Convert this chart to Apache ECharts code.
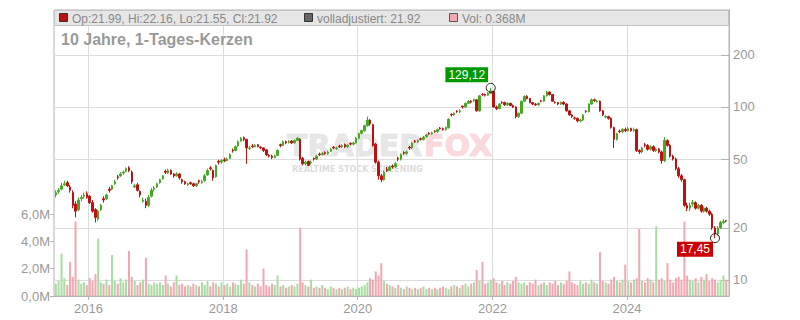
<!DOCTYPE html>
<html><head><meta charset="utf-8">
<script src="https://cdn.jsdelivr.net/npm/echarts@6/dist/echarts.min.js"></script>
<style>html,body{margin:0;padding:0;background:#fff}#c{width:800px;height:320px}</style>
</head><body><div id="c"></div>
<script>
// half-month candles, July 2015 .. June 2025
const opens = [
31,32.5,33.5,35.5,36.5,34.5,32,27.5,25.5,29.5,30.5,31.5,
30.5,28,25.5,22.5,25.5,29.5,29.5,33.5,33.5,36,39.5,40,
41.5,42.5,44.5,42,34.5,35.5,32.5,28.5,28.5,27,30.5,33.5,
34.5,36.5,38.5,42.5,41.5,43,41,40,41,38,37,35.5,
36.5,36,35,37.5,36.5,37.5,40.5,44.5,43,39.5,48.5,48,
49.5,49,50.5,56.5,56,59.5,63.5,66.5,65,57.5,59.5,59,
60.5,58.5,58,56.5,52.5,52,51,52.5,60.5,60,63,62.5,
63.5,62,64,65,50.5,47,48.5,47.5,50.5,50,53.5,53,
54.5,54,55.5,58.5,57.5,59.5,59,60.5,59,61.5,61,62,
66,70.5,73,78,84,79,61,48,40,38,43.5,43,
45.5,45,50.5,50,54.5,54,58.5,58,63.5,63,65.5,65,
67.5,70.5,70,72.5,72,75.5,75,74,76,90.5,90,94.5,
94,101,100,105,108,108.5,110,95,118.5,118,117,120,
123,100,98,106.5,106,103,105,102,100,88,92,108,
115,112,106,104,103,108.5,108,116,122,118,106.5,106,
104,106.5,104,95,90,86.5,86,83,84,94.5,94,104,
110,107.5,108,95,87.5,88,86,76,65,72.5,72,74,
73,75,73,74,56,55,60.5,60,57,59,56,57,
55,49,64,60,52,50,44,40,38,27,26,27.5,
28,26,27,25,26,25,24,20,18.5,20,21.5,21.99];
const closes = [
32,33,35,36,35,33,27,25,29,30,31,30,
28,25,23,25,27,29,31,33,35,37,39,41,
42,44,43,37,35,33,31,29,27,30,33,34,
36,38,40,42,43,41,40,41,39,37,36,36,
36,35,36,37,37,40,43,44,39,46,48,49,
49,50,53,56,59,63,66,65,58,58,59,60,
59,58,56,53,52,51,52,56,60,63,62,63,
62,64,66,50,47,48,46,48,50,52,53,54,
54,55,57,58,58,59,60,59,60,61,62,66,
70,73,78,84,80,60,48,40,38,42,43,45,
45,47,50,53,54,55,58,62,63,64,65,67,
69,70,71,72,74,75,74,76,85,90,92,94,
95,100,105,108,107,110,95,116,118,117,120,124,
100,98,104,106,103,105,102,100,88,92,108,115,
112,106,104,103,105,108,116,122,118,108,106,104,
106,104,95,90,88,86,83,84,90,94,104,110,
109,108,95,90,88,86,76,65,70,72,74,73,
75,73,74,56,55,58,60,57,59,56,57,55,
49,64,60,52,50,44,40,38,27,26,27,28,
26,27,25,26,25,24,20,18.5,20,21.5,21.8,21.92];
const highs = [
33,34,36.5,37.5,37.5,35.5,33,28.5,30,31,32,32.5,
31,29,26,25.5,27.5,30.5,31.5,34.5,35.5,38,40.5,42,
43,44.8,45.5,43,36,36.5,33,30,29.5,31,34,35,
36.5,38.5,40.5,43.5,44,43.5,41.5,42,41.5,38.5,37.5,36.5,
37,36.5,36.5,38,38,41,44,45.5,43.5,46.5,49.5,50,
51,51,54,57.5,60,64,67,67.5,65.5,59.5,61,61,
61,59.5,58.5,57,53.5,53,53,57,61.5,64,64,64.5,
64.5,65,67,66,51.5,49,49,49,51,53,54.5,55,
55.5,56,58,59.5,59,60.5,61,61.5,61,62.5,63,67,
71,74,79,88,85,80,62,49,41,43,45,46,
46.5,48,51.5,54,55.5,56,59.5,63,64.5,65,66.5,68,
70,71.5,72,73.5,75,76.5,76,77,86,92,93,96,
97,102,106,109.5,109.5,112,111,117,120,119.5,122,129.12,
124,102,105,108,107.5,106.5,106,103.5,101,93,109,116.5,
117,113,107,105.5,106,110,117,124,123,119,108,107,
107.5,108,105,96,91,88,87,85.5,91,96,105,112,
112,110,109,96,89.5,89,87,77,71,74,75.5,76,
76.5,76,76,75,57,59,62,61,60,60,58,58,
56,67,65,61,53,51,45,41,38.5,28,28,29,
28.5,27.5,27.5,26.5,26.5,25.5,24.5,20.5,20.5,22,22.5,22.16];
const lows = [
30,31.5,33,35,34.5,32,26,23,25,28.5,29.5,29.5,
27.5,24.5,21.5,22,25,28,29,32,33,35.5,38,39.5,
40.5,42,42,36,34,32.5,30,28,26,26.5,30,32.5,
34,36,38,41,41,40.5,39,39.5,38,36,35.5,35,
35.5,34.5,34.5,36,36,37,40,43,37.5,39,46.5,47,
48,48.5,50,54.5,55.5,59,63,63.5,47,56.5,58,58.5,
58.5,57,55,52,51,50,50.5,52,58.5,59.5,61,61.5,
61,61.5,63.5,49,46,46,45.5,46.5,49,49.5,52,52.5,
53,53,55,57,56.5,58,58,58,58,60,60,61.5,
65,69.5,72,77,78,59,47,38,36.8,37.5,42,42.5,
44,44.5,48.5,49,53,53,56.5,57,62,62,64,64,
66.5,69,69,71,71,74,73,73,75,88,89,92.5,
92,98,99,104,105,107,94,94,116,115,116,119,
99,96,97,104,101.5,101.5,101,98.5,86,86.5,91,107,
110.5,105,102.5,101.5,101.5,106.5,107,115,116.5,107,104.5,102.5,
102.5,102.5,94,89,86.5,84.5,81.5,81.5,83,92.5,93,103,
107,106,94,88.5,86,84.5,75,58,64,70.5,70.5,71.5,
72,72,72,55,53.5,54,58.5,56,56,55,55,54,
47,48,59,51,49,43,39,37,26.5,25,25,26.5,
25.5,25.5,24.5,24.5,24.5,23.5,19.5,17.45,18,19.8,21,21.55];
// volume in millions
const volumes = [
0.9,1.1,3.1,1.3,0.8,2.5,1.4,5.45,1.2,0.9,1.0,0.8,
1.3,1.1,1.6,4.2,1.0,0.9,1.2,0.8,3.0,1.1,0.9,1.3,
1.0,1.2,3.3,1.4,1.1,0.8,1.0,1.2,2.8,0.9,0.8,1.0,
0.9,1.0,0.8,1.5,0.9,0.7,1.0,1.5,0.8,0.9,0.7,0.8,
0.7,0.9,0.8,0.7,1.0,0.8,1.1,0.7,1.0,0.9,0.7,1.0,
0.8,0.9,0.7,1.0,0.9,0.8,1.2,0.9,3.4,1.0,0.8,0.7,
0.9,0.7,2.0,0.8,0.7,0.9,0.8,1.5,0.7,0.8,0.6,0.7,
0.8,0.7,0.9,5.0,1.0,0.8,0.7,1.2,0.6,0.7,0.6,0.8,
0.6,0.5,0.7,0.6,0.5,0.6,0.5,0.6,0.7,0.5,0.6,0.5,
0.6,0.7,0.8,1.0,1.3,1.2,1.8,1.5,2.4,1.1,0.9,0.8,
0.7,0.6,0.8,0.6,0.5,0.7,0.6,0.5,0.6,0.5,0.6,0.7,
0.5,0.6,0.5,0.6,0.5,0.6,0.7,0.6,0.5,0.7,0.8,0.7,
0.6,0.8,0.9,0.7,0.9,1.0,1.9,1.1,2.5,0.9,1.0,1.2,
1.3,1.0,0.9,1.1,0.8,1.0,0.9,1.1,1.4,1.0,0.9,1.0,
0.8,1.0,0.9,1.2,0.8,0.9,1.0,0.8,1.0,0.9,1.1,0.8,
1.0,0.9,1.1,1.8,1.0,0.9,0.8,1.1,0.9,1.0,0.9,1.2,
1.0,0.9,3.2,1.1,1.0,0.9,1.2,1.4,1.1,1.0,1.2,2.3,
1.1,1.0,1.2,1.3,4.9,1.1,1.0,1.3,1.2,1.0,5.1,1.2,
1.3,1.1,2.4,1.2,1.0,1.3,1.4,1.2,5.45,1.5,1.2,1.1,
1.3,1.0,1.4,1.2,1.6,1.1,1.3,1.2,1.0,1.1,1.5,1.2];
const yearTicks = [2016, 2018, 2020, 2022, 2024];
const priceTicks = [10, 20, 50, 100, 200];
const titleText = '10 Jahre, 1-Tages-Kerzen';
const legendOHLC = 'Op:21.99, Hi:22.16, Lo:21.55, Cl:21.92';
const legendAdj = 'volladjustiert: 21.92';
const legendVol = 'Vol: 0.368M';

const FONT = '"Liberation Sans", Arial, sans-serif';
const UP = '#44aa22', DOWN = '#bb1111', VUP = '#a9dca2', VDOWN = '#f2a7b0';
const n = closes.length;
const dates = [];
for (let i = 0; i < n; i++) dates.push(Date.UTC(2015, 6 + Math.floor(i / 2), i % 2 ? 23 : 8));
const candleData = dates.map((d, i) => [d, opens[i], closes[i], lows[i], highs[i]]);
const volData = dates.map((d, i) => ({
  value: [d, volumes[i] * 1e6],
  itemStyle: { color: closes[i] >= opens[i] ? VUP : VDOWN }
}));
const xMin = Date.UTC(2015, 5, 28), xMax = Date.UTC(2025, 6, 8);
const yearTs = yearTicks.map(y => Date.UTC(y, 0, 1));
const fmtComma = v => v.toFixed(2).replace('.', ',');

const chart = echarts.init(document.getElementById('c'), null, { renderer: 'svg' });
chart.setOption({
  animation: false,
  textStyle: { fontFamily: FONT },
  grid: [
    { left: 54, right: 71, top: 10, bottom: 24, show: true, borderColor: '#b4b4b4', borderWidth: 1 },
    { left: 54, right: 71, top: 214, bottom: 24 }
  ],
  xAxis: [
    { type: 'value', gridIndex: 0, min: xMin, max: xMax,
      axisLine: { show: true, lineStyle: { color: '#b4b4b4' } },
      axisTick: { show: true, length: 4, customValues: yearTs, lineStyle: { color: '#b4b4b4' } },
      axisLabel: { customValues: yearTs, color: '#999', fontSize: 13, margin: 6, fontFamily: FONT,
        formatter: v => String(new Date(v).getUTCFullYear()) },
      splitLine: { show: true, lineStyle: { color: '#dcdcdc' } } },
    { type: 'value', gridIndex: 1, min: xMin, max: xMax, show: false }
  ],
  yAxis: [
    { type: 'log', logBase: 10, gridIndex: 0, position: 'right', min: 8.08, max: 363.7,
      axisLine: { show: true, lineStyle: { color: '#b4b4b4' } },
      axisTick: { show: true, inside: true, length: 8, customValues: priceTicks, lineStyle: { color: '#b4b4b4' } },
      axisLabel: { customValues: priceTicks, color: '#999', fontSize: 13, margin: 4, fontFamily: FONT },
      splitLine: { show: true, lineStyle: { color: '#dcdcdc' } } },
    { type: 'value', gridIndex: 1, position: 'left', min: 0, max: 6e6, interval: 2e6,
      axisLine: { show: false },
      axisTick: { show: true, length: 4, lineStyle: { color: '#b4b4b4' } },
      axisLabel: { color: '#999', fontSize: 13, margin: 4, fontFamily: FONT,
        formatter: v => (v / 1e6).toFixed(1).replace('.', ',') + 'M' },
      splitLine: { show: false } }
  ],
  graphic: [
    { type: 'text', z: 1, style: { x: 287, y: 145, text: 'TRADER', fill: '#e6e6e6', stroke: '#d6d6d6', lineWidth: 0.6,
      font: 'bold 30px "DejaVu Sans"', verticalAlign: 'middle' } },
    { type: 'text', z: 1, style: { x: 424, y: 145, text: 'FOX', fill: '#fbd9dc', stroke: '#f4c2c8', lineWidth: 0.6,
      font: 'bold 30px "DejaVu Sans"', verticalAlign: 'middle' } },
    { type: 'text', z: 1, style: { x: 292, y: 169, text: 'REALTIME STOCK SCREENING', fill: '#dcdcdc',
      font: 'bold 8px "DejaVu Sans"', verticalAlign: 'middle' } },
    { type: 'rect', z: 50, shape: { x: 54.5, y: 10.5, width: 674, height: 15 }, style: { fill: '#e6e6e6', stroke: '#c4c4c4' } },
    { type: 'rect', z: 51, shape: { x: 59.5, y: 13.5, width: 8, height: 8 }, style: { fill: '#bb1111', stroke: '#333' } },
    { type: 'text', z: 51, style: { x: 72, y: 18.5, text: legendOHLC, fill: '#888', font: '12px ' + FONT, verticalAlign: 'middle' } },
    { type: 'rect', z: 51, shape: { x: 304.5, y: 13.5, width: 8, height: 8 }, style: { fill: '#666', stroke: '#333' } },
    { type: 'text', z: 51, style: { x: 317, y: 18.5, text: legendAdj, fill: '#888', font: '12px ' + FONT, verticalAlign: 'middle' } },
    { type: 'rect', z: 51, shape: { x: 449.5, y: 13.5, width: 8, height: 8 }, style: { fill: '#f4a8b0', stroke: '#555' } },
    { type: 'text', z: 51, style: { x: 462, y: 18.5, text: legendVol, fill: '#888', font: '12px ' + FONT, verticalAlign: 'middle' } },
    { type: 'text', z: 51, style: { x: 61, y: 39.5, text: titleText, fill: '#999', font: 'bold 16px ' + FONT, verticalAlign: 'middle' } }
  ],
  series: [
    { type: 'bar', xAxisIndex: 1, yAxisIndex: 1, data: volData, barWidth: 2, z: 2 },
    { type: 'candlestick', xAxisIndex: 0, yAxisIndex: 0, data: candleData,
      encode: { x: 0, y: [1, 2, 3, 4] },
      barWidth: 2, z: 3,
      itemStyle: { color: UP, color0: DOWN, borderColor: UP, borderColor0: DOWN, borderWidth: 1 },
      markPoint: {
        symbol: 'circle', symbolSize: 9, z: 10,
        itemStyle: { color: 'rgba(255,255,255,0)', borderColor: '#222', borderWidth: 1 },
        label: { show: true, color: '#fff', fontSize: 12, fontFamily: FONT, padding: [2, 3, 1, 3],
          formatter: p => fmtComma(p.value) },
        data: [
          { type: 'max', valueDim: 'highest', label: { backgroundColor: '#009900', offset: [-24, -13] } },
          { type: 'min', valueDim: 'lowest', label: { backgroundColor: '#cc0000', offset: [-20, 11] } }
        ]
      } }
  ]
});
</script></body></html>
